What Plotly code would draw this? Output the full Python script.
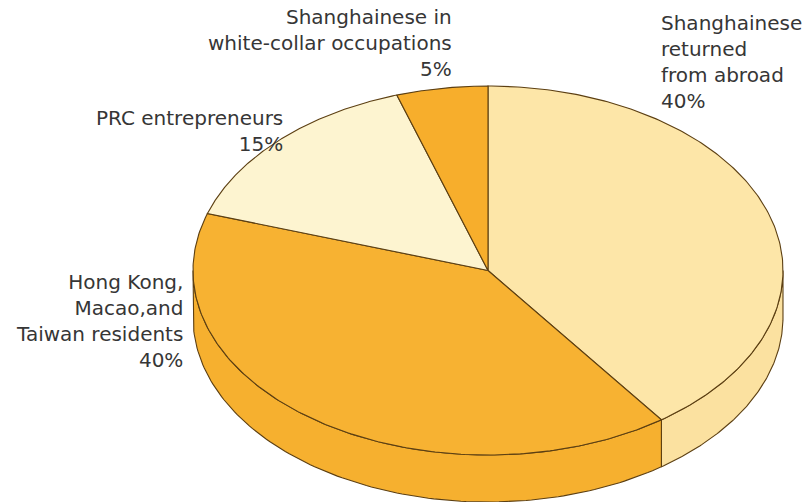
import numpy as np
import plotly.graph_objects as go

# Data (clockwise from 12 o'clock)
categories = ["Shanghainese returned from abroad", "Hong Kong, Macao,and Taiwan residents",
              "PRC entrepreneurs", "Shanghainese in white-collar occupations"]
shares = [40, 40, 15, 5]
label_lines = [["Shanghainese", "returned", "from abroad"],
               ["Hong Kong,", "Macao,and", "Taiwan residents"],
               ["PRC entrepreneurs"],
               ["Shanghainese in", "white-collar occupations"]]
top_colors = ["#FDE6A8", "#F7B232", "#FDF4D0", "#F7AE2C"]
side_colors = ["#FBE1A0", "#F6B02F", "#FBEFC5", "#F3A828"]
edge = "#5C3F12"

# Geometry of the tilted pie (pixel space)
cx, cy, rx, ry, depth = 488, 270.5, 295, 184.5, 47

def pt(t_deg, dy=0.0):
    t = np.radians(t_deg)
    return cx + rx * np.sin(t), cy - ry * np.cos(t) + dy

fig = go.Figure()
total = sum(shares)
bounds = np.concatenate([[0], np.cumsum(shares) / total * 360.0])

# side walls (front half: 90..270 deg)
for i in range(len(shares)):
    a, b = max(bounds[i], 90), min(bounds[i + 1], 270)
    if b <= a:
        continue
    ts = np.linspace(a, b, 120)
    xs_top, ys_top = pt(ts)
    xs_bot, ys_bot = pt(ts[::-1], depth)
    xs = np.concatenate([xs_top, xs_bot, [xs_top[0]]])
    ys = np.concatenate([ys_top, ys_bot, [ys_top[0]]])
    fig.add_trace(go.Scatter(x=xs, y=ys, mode="lines", fill="toself",
                             fillcolor=side_colors[i], line=dict(color=edge, width=1.1),
                             hoverinfo="skip", showlegend=False))

# top face slices
for i in range(len(shares)):
    ts = np.linspace(bounds[i], bounds[i + 1], 200)
    xa, ya = pt(ts)
    xs = np.concatenate([[cx], xa, [cx]])
    ys = np.concatenate([[cy], ya, [cy]])
    fig.add_trace(go.Scatter(x=xs, y=ys, mode="lines", fill="toself",
                             fillcolor=top_colors[i], line=dict(color=edge, width=1.1),
                             hoverinfo="skip", showlegend=False))

# labels
lab_font = dict(family="DejaVu Sans, Arial, sans-serif", size=20, color="#363636")
label_pos = [  # x, y(top), anchor
    (659, 9, "left"),
    (185, 268, "right"),
    (285, 104, "right"),
    (454, 3, "right"),
]
for i in range(len(shares)):
    x, y, anc = label_pos[i]
    txt = "<br>".join(label_lines[i] + [f"{shares[i]}%"])
    fig.add_annotation(x=x, y=y, xref="x", yref="y", text=txt, showarrow=False,
                       xanchor=anc, yanchor="top", align=anc, font=lab_font)

fig.update_layout(
    width=809, height=502, autosize=False,
    margin=dict(l=0, r=0, t=0, b=0),
    paper_bgcolor="white", plot_bgcolor="white",
    xaxis=dict(range=[0, 809], visible=False, fixedrange=True),
    yaxis=dict(range=[502, 0], visible=False, fixedrange=True),
)
fig.write_html("out.html")
